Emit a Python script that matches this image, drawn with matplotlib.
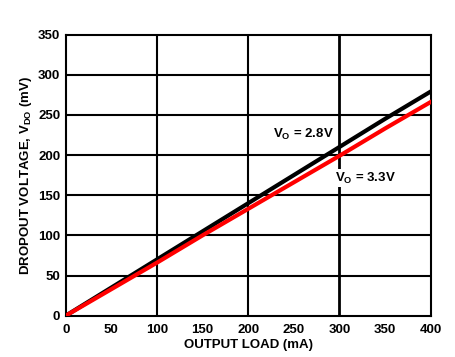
import matplotlib
matplotlib.use("Agg")
import matplotlib.pyplot as plt

# output load (mA) vs dropout voltage (mV)
load_ma = [0, 50, 100, 150, 200, 250, 300, 350, 400]
vdo_28 = [0, 35, 70, 105, 140, 175, 210, 245, 279]
vdo_33 = [0, 33, 66, 100, 133, 166, 199, 233, 266]

x_ticks = [0, 50, 100, 150, 200, 250, 300, 350, 400]
y_ticks = [0, 50, 100, 150, 200, 250, 300, 350]

plt.rcParams['font.family'] = ['Liberation Sans', 'DejaVu Sans']
plt.rcParams['font.weight'] = 'bold'
plt.rcParams['mathtext.fontset'] = 'custom'
plt.rcParams['mathtext.rm'] = 'Liberation Sans:bold'
plt.rcParams['mathtext.it'] = 'Liberation Sans:bold'
plt.rcParams['mathtext.bf'] = 'Liberation Sans:bold'

fs = 9.5

fig = plt.figure(figsize=(4.56, 3.57), dpi=100)
ax = fig.add_axes([65.7 / 456, 1 - 315.7 / 357, 365 / 456, 281.2 / 357])

# grid: vertical every 100, horizontal every 50
for xv in [100, 200, 300]:
    ax.axvline(xv, color='black', lw=1.5 if xv != 300 else 2.0, zorder=1)
for yv in y_ticks[1:-1]:
    ax.axhline(yv, color='black', lw=1.5, zorder=1)

ax.plot(load_ma, vdo_28, color='black', lw=3, zorder=3)
ax.plot(load_ma, vdo_33, color='#ff0000', lw=3, zorder=4)

ax.text(227, 225, r"V$_{\mathrm{O}}$ = 2.8V", fontsize=fs, fontweight='bold',
        va='center', ha='left', zorder=5)
ax.text(295, 171, r"V$_{\mathrm{O}}$ = 3.3V", fontsize=fs, fontweight='bold',
        va='center', ha='left', zorder=5,
        bbox=dict(facecolor='white', edgecolor='none', pad=1))

ax.set_xlim(0, 400)
ax.set_ylim(0, 350)
ax.set_xticks(x_ticks)
ax.set_yticks(y_ticks)
ax.tick_params(axis='x', length=0, labelsize=fs, pad=6)
ax.tick_params(axis='y', length=0, labelsize=fs, pad=4)
for lab in ax.get_xticklabels() + ax.get_yticklabels():
    lab.set_fontweight('bold')
for sp in ax.spines.values():
    sp.set_linewidth(1.5)

ax.set_xlabel("OUTPUT LOAD (mA)", fontsize=fs, fontweight='bold', labelpad=2)
ax.set_ylabel(r"DROPOUT VOLTAGE, V$_{\mathrm{DO}}$ (mV)", fontsize=fs,
              fontweight='bold', labelpad=3)

fig.savefig("out.png", dpi=100)
